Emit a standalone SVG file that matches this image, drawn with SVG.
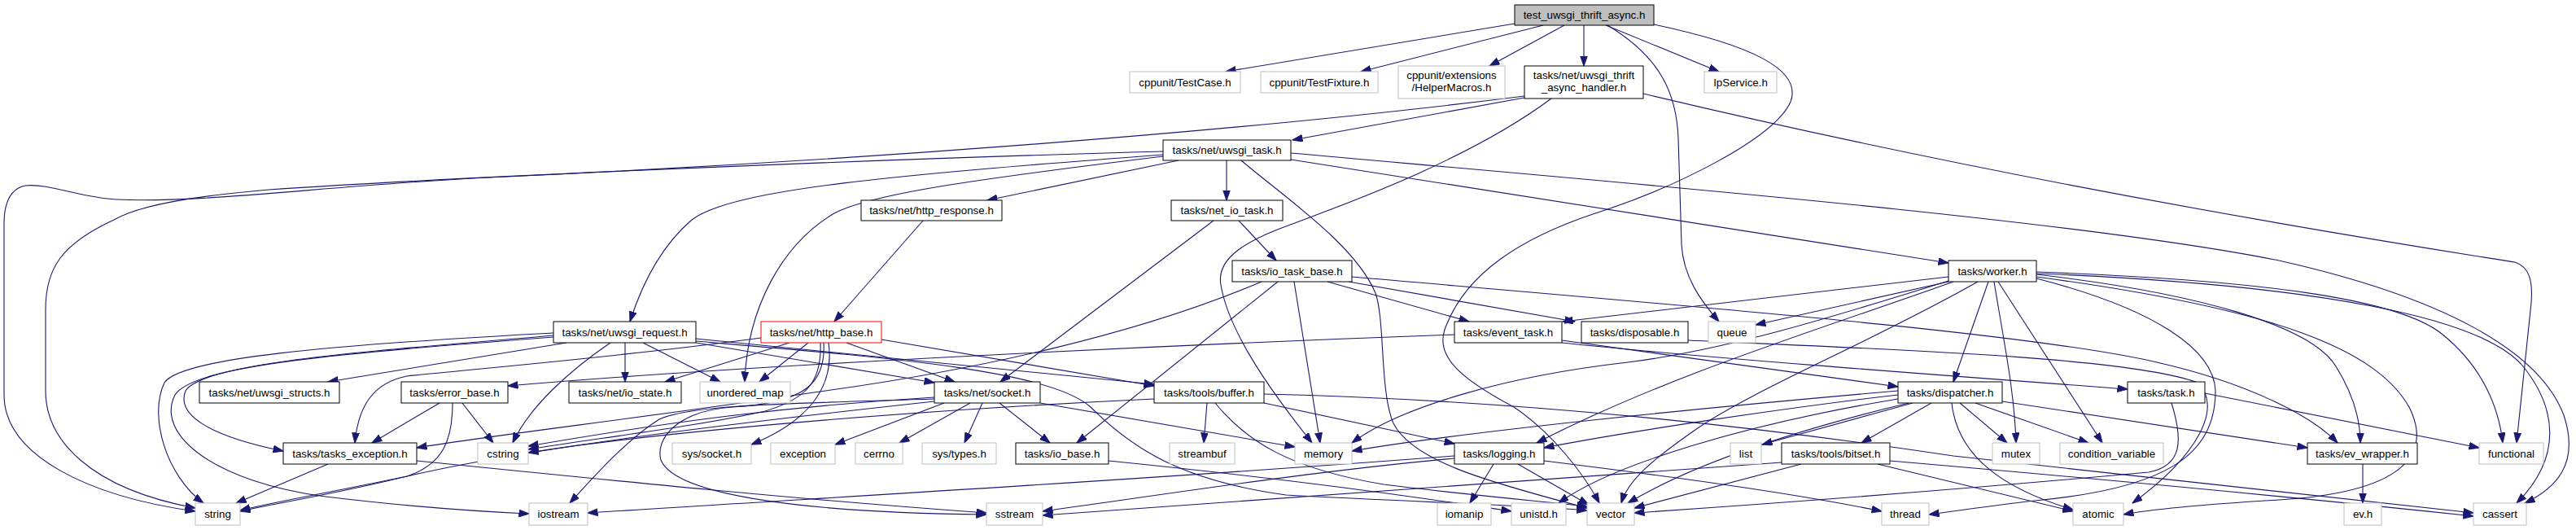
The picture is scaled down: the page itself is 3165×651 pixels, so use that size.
<svg xmlns="http://www.w3.org/2000/svg" width="3165" height="651" viewBox="0 0 3165 651">
<defs>
<style>
.n rect{fill:#fff;stroke:#000;stroke-width:1}
.g rect{fill:#fff;stroke:#bfbfbf;stroke-width:1}
.r rect{fill:#fff;stroke:#f00;stroke-width:1}
.t rect{fill:#bfbfbf;stroke:#000;stroke-width:1}
text{font-family:"Liberation Sans",Arial,sans-serif;font-size:13.33px;text-anchor:middle;fill:#000}
#edges path{fill:none;stroke:#191970;stroke-width:1.1;marker-end:url(#a)}
</style>
<marker id="a" markerWidth="13" markerHeight="10" refX="12.5" refY="4.5" orient="auto" markerUnits="userSpaceOnUse"><path d="M0,0 L13,4.5 L0,9 z" fill="#191970" stroke="#191970" stroke-width="0.8"/></marker>
</defs>
<rect width="3165" height="651" fill="#fff"/>
<g id="edges">
<path d="M1861,29 L1506,88"/>
<path d="M1896,31 L1672,88"/>
<path d="M1922,31 L1830,81"/>
<path d="M1946,31 L1946,81"/>
<path d="M1973,31 L2112,88"/>
<path d="M1975,31 C2040,70 2060,115 2062,170 L2066,300 C2068,340 2090,370 2112,395"/>
<path d="M2032,30 C2150,55 2215,85 2200,125 C2180,170 2060,230 1960,262 C1870,292 1800,335 1775,405 C1763,440 1800,468 1860,500 C1905,530 1945,580 1965,618"/>
<path d="M1873,120 L1588,172"/>
<path d="M1873,118 C1500,165 1000,200 600,218 C400,228 250,250 143,245 C100,243 60,225 31,228 C12,232 5,250 5,275 L5,485 C5,560 110,610 240,628"/>
<path d="M1906,121 C1800,200 1640,255 1580,278 C1520,300 1495,322 1500,350 C1510,410 1565,485 1612,544"/>
<path d="M2019,115 C2500,230 2950,300 3090,322 C3108,328 3112,345 3110,372 L3092,544"/>
<path d="M1448,197 L1213,246"/>
<path d="M1507,197 L1507,246"/>
<path d="M1586,196 L2394,323"/>
<path d="M1429,190 C1100,215 900,232 850,270 C815,300 790,345 774,395"/>
<path d="M1429,192 C1200,220 1070,238 1025,262 C960,300 918,380 915,469"/>
<path d="M1429,186 C1100,195 600,215 330,233 C250,240 175,250 140,270 C75,300 56,330 56,380 L56,480 C56,540 110,600 240,624"/>
<path d="M1586,188 C2000,225 2550,270 2800,320 C3000,365 3120,430 3150,510 C3170,570 3140,600 3102,618"/>
<path d="M1525,197 C1575,240 1665,300 1690,360 C1702,395 1695,480 1712,520 C1735,565 1820,590 1950,624"/>
<path d="M1134,271 L1025,395"/>
<path d="M1522,271 L1568,320"/>
<path d="M1491,271 L1229,469"/>
<path d="M1631,346 L1805,395"/>
<path d="M1657,346 L1935,395"/>
<path d="M1590,346 L1622,544"/>
<path d="M1570,346 L1323,544"/>
<path d="M1550,346 C1400,410 1200,455 1000,482 C800,512 600,535 512,550"/>
<path d="M1661,340 C2100,378 2500,410 2650,445 C2760,470 2840,510 2872,544"/>
<path d="M696,421 L403,469"/>
<path d="M768,421 L768,469"/>
<path d="M790,421 L885,469"/>
<path d="M750,421 C700,455 650,500 630,544"/>
<path d="M680,412 C450,432 250,445 228,480 C215,512 265,537 348,554"/>
<path d="M680,409 C400,424 222,440 202,470 C182,512 205,585 250,618"/>
<path d="M680,414 C420,434 240,448 215,485 C190,535 265,592 400,610 C500,622 580,628 650,631"/>
<path d="M855,421 L1148,470"/>
<path d="M855,416 L1418,472"/>
<path d="M855,419 C1100,440 1290,455 1340,500 C1390,550 1450,590 1580,608 C1750,617 1880,621 1950,627"/>
<path d="M970,421 L817,469"/>
<path d="M993,421 L933,469"/>
<path d="M1040,421 L1173,469"/>
<path d="M1083,417 L1418,474"/>
<path d="M935,415 C750,440 560,455 500,462 C458,470 440,500 436,544"/>
<path d="M1008,421 C1010,470 990,490 940,505 C850,525 720,540 649,552"/>
<path d="M1012,421 C1015,470 990,495 900,500 C830,505 805,540 812,565 C830,610 1000,630 1212,632"/>
<path d="M1018,421 C1025,470 1000,515 923,546"/>
<path d="M1148,490 C960,496 850,497 810,515 C770,540 730,585 700,618"/>
<path d="M1148,488 C950,500 800,522 649,548"/>
<path d="M1160,495 L1026,546"/>
<path d="M1192,495 L1105,544"/>
<path d="M1207,495 L1185,544"/>
<path d="M1228,495 L1290,544"/>
<path d="M1278,495 L1591,549"/>
<path d="M1148,493 C900,520 650,550 500,585 C400,606 330,618 295,627"/>
<path d="M1483,495 L1479,544"/>
<path d="M1418,490 C1100,505 800,532 649,556"/>
<path d="M1553,495 L1787,545"/>
<path d="M1553,484 C1900,492 2200,530 2400,560 C2700,592 2900,615 3039,630"/>
<path d="M1493,495 C1530,540 1580,575 1700,595 C1820,610 1900,616 1950,622"/>
<path d="M540,495 L457,544"/>
<path d="M568,495 L606,544"/>
<path d="M556,495 C556,540 545,570 500,585 C420,605 340,618 295,628"/>
<path d="M403,570 L290,618"/>
<path d="M512,566 C800,595 1000,615 1212,630"/>
<path d="M1787,411 C1400,425 900,450 624,474"/>
<path d="M1919,418 L2332,475"/>
<path d="M1919,421 C2100,440 2400,462 2614,478"/>
<path d="M2394,340 L1920,395"/>
<path d="M2394,346 L2157,399"/>
<path d="M2394,345 C2250,390 2120,430 2000,445 C1850,462 1720,500 1661,544"/>
<path d="M2400,346 C2250,400 2050,460 1888,544"/>
<path d="M2443,346 L2400,469"/>
<path d="M2450,346 C2462,420 2475,480 2477,544"/>
<path d="M2455,346 L2583,544"/>
<path d="M2502,340 C2800,380 2920,430 2960,500 C2990,560 2950,605 2800,614 C2700,620 2640,626 2609,632"/>
<path d="M2502,337 C2700,360 2840,400 2870,450 C2895,490 2900,520 2900,544"/>
<path d="M2502,334 C2800,345 2950,370 3000,410 C3050,450 3070,500 3075,544"/>
<path d="M2502,336 C2850,350 3050,390 3100,450 C3140,500 3150,560 3092,618"/>
<path d="M2502,342 C2650,380 2720,430 2722,480 C2722,560 2660,600 2500,615 C2440,622 2400,628 2370,632"/>
<path d="M2430,346 C2300,420 2150,480 2080,530 C2030,565 2000,590 1992,618"/>
<path d="M2332,485 C2200,500 2000,530 1897,550"/>
<path d="M2332,480 C2100,500 1800,530 1661,554"/>
<path d="M2350,495 L2165,546"/>
<path d="M2373,495 L2287,544"/>
<path d="M2408,495 L2466,544"/>
<path d="M2427,495 L2566,544"/>
<path d="M2398,495 C2405,560 2460,600 2547,626"/>
<path d="M2460,493 L2835,550"/>
<path d="M2345,495 C2200,530 2080,570 2000,618"/>
<path d="M2332,490 C2150,520 1980,570 1915,618"/>
<path d="M2213,570 L2008,624"/>
<path d="M2307,570 L2547,628"/>
<path d="M2322,566 C2600,590 2850,614 3039,634"/>
<path d="M2189,568 C1900,590 1600,612 1281,633"/>
<path d="M1835,570 L1806,618"/>
<path d="M1865,570 L1952,620"/>
<path d="M1897,566 C2050,585 2200,605 2312,628"/>
<path d="M1787,563 C1600,580 1400,612 1281,628"/>
<path d="M1787,560 C1400,590 1000,612 722,630"/>
<path d="M2709,483 L3046,550"/>
<path d="M2668,495 C2682,540 2682,572 2640,580 C2400,602 2200,617 2008,630"/>
<path d="M2903,570 L2903,618"/>
<path d="M2074,418 C2350,430 2620,440 2700,470 C2732,500 2700,560 2620,618"/>
<path d="M1362,566 C1600,590 1750,612 1857,628"/>
</g>
<g id="test" class="t"><rect x="1861" y="6" width="171" height="25"/><text x="1946.5" y="23">test_uwsgi_thrift_async.h</text></g>
<g id="TestCase" class="g"><rect x="1388" y="88" width="136" height="26"/><text x="1456" y="105.5">cppunit/TestCase.h</text></g>
<g id="TestFixture" class="g"><rect x="1549" y="88" width="144" height="26"/><text x="1621" y="105.5">cppunit/TestFixture.h</text></g>
<g id="HelperMacros" class="g"><rect x="1718" y="81" width="131" height="40"/><text x="1783.5" y="97">cppunit/extensions</text><text x="1783.5" y="112">/HelperMacros.h</text></g>
<g id="handler" class="n"><rect x="1873" y="81" width="146" height="40"/><text x="1946" y="97">tasks/net/uwsgi_thrift</text><text x="1946" y="112">_async_handler.h</text></g>
<g id="IpService" class="g"><rect x="2094" y="88" width="89" height="26"/><text x="2138.5" y="105.5">IpService.h</text></g>
<g id="uwsgi_task" class="n"><rect x="1429" y="172" width="157" height="25"/><text x="1507.5" y="189">tasks/net/uwsgi_task.h</text></g>
<g id="http_response" class="n"><rect x="1058" y="246" width="173" height="25"/><text x="1144.5" y="263">tasks/net/http_response.h</text></g>
<g id="net_io_task" class="n"><rect x="1439" y="246" width="137" height="25"/><text x="1507.5" y="263">tasks/net_io_task.h</text></g>
<g id="io_task_base" class="n"><rect x="1514" y="320" width="147" height="26"/><text x="1587.5" y="337.5">tasks/io_task_base.h</text></g>
<g id="worker" class="n"><rect x="2394" y="320" width="108" height="26"/><text x="2448" y="337.5">tasks/worker.h</text></g>
<g id="uwsgi_request" class="n"><rect x="680" y="395" width="175" height="26"/><text x="767.5" y="412.5">tasks/net/uwsgi_request.h</text></g>
<g id="http_base" class="r"><rect x="935" y="395" width="148" height="26"/><text x="1009" y="412.5">tasks/net/http_base.h</text></g>
<g id="event_task" class="n"><rect x="1787" y="395" width="132" height="26"/><text x="1853" y="412.5">tasks/event_task.h</text></g>
<g id="disposable" class="n"><rect x="1943" y="395" width="131" height="26"/><text x="2008.5" y="412.5">tasks/disposable.h</text></g>
<g id="queue" class="g"><rect x="2099" y="395" width="58" height="26"/><text x="2128" y="412.5">queue</text></g>
<g id="uwsgi_structs" class="n"><rect x="245" y="469" width="172" height="26"/><text x="331" y="486.5">tasks/net/uwsgi_structs.h</text></g>
<g id="error_base" class="n"><rect x="493" y="469" width="131" height="26"/><text x="558.5" y="486.5">tasks/error_base.h</text></g>
<g id="io_state" class="n"><rect x="699" y="469" width="138" height="26"/><text x="768" y="486.5">tasks/net/io_state.h</text></g>
<g id="unordered_map" class="g"><rect x="860" y="469" width="111" height="26"/><text x="915.5" y="486.5">unordered_map</text></g>
<g id="socket" class="n"><rect x="1148" y="469" width="130" height="26"/><text x="1213" y="486.5">tasks/net/socket.h</text></g>
<g id="buffer" class="n"><rect x="1418" y="469" width="135" height="26"/><text x="1485.5" y="486.5">tasks/tools/buffer.h</text></g>
<g id="dispatcher" class="n"><rect x="2332" y="469" width="128" height="26"/><text x="2396" y="486.5">tasks/dispatcher.h</text></g>
<g id="task" class="n"><rect x="2614" y="469" width="95" height="26"/><text x="2661.5" y="486.5">tasks/task.h</text></g>
<g id="tasks_exception" class="n"><rect x="348" y="544" width="164" height="26"/><text x="430" y="561.5">tasks/tasks_exception.h</text></g>
<g id="cstring" class="g"><rect x="587" y="544" width="62" height="26"/><text x="618" y="561.5">cstring</text></g>
<g id="sys_socket" class="g"><rect x="826" y="544" width="97" height="26"/><text x="874.5" y="561.5">sys/socket.h</text></g>
<g id="exception" class="g"><rect x="947" y="544" width="79" height="26"/><text x="986.5" y="561.5">exception</text></g>
<g id="cerrno" class="g"><rect x="1051" y="544" width="58" height="26"/><text x="1080" y="561.5">cerrno</text></g>
<g id="sys_types" class="g"><rect x="1133" y="544" width="91" height="26"/><text x="1178.5" y="561.5">sys/types.h</text></g>
<g id="io_base" class="n"><rect x="1248" y="544" width="114" height="26"/><text x="1305" y="561.5">tasks/io_base.h</text></g>
<g id="streambuf" class="g"><rect x="1437" y="544" width="80" height="26"/><text x="1477" y="561.5">streambuf</text></g>
<g id="memory" class="g"><rect x="1591" y="544" width="70" height="26"/><text x="1626" y="561.5">memory</text></g>
<g id="logging" class="n"><rect x="1787" y="544" width="110" height="26"/><text x="1842" y="561.5">tasks/logging.h</text></g>
<g id="list" class="g"><rect x="2126" y="544" width="38" height="26"/><text x="2145" y="561.5">list</text></g>
<g id="bitset" class="n"><rect x="2189" y="544" width="133" height="26"/><text x="2255.5" y="561.5">tasks/tools/bitset.h</text></g>
<g id="mutex" class="g"><rect x="2448" y="544" width="58" height="26"/><text x="2477" y="561.5">mutex</text></g>
<g id="condition_variable" class="g"><rect x="2531" y="544" width="127" height="26"/><text x="2594.5" y="561.5">condition_variable</text></g>
<g id="ev_wrapper" class="n"><rect x="2835" y="544" width="135" height="26"/><text x="2902.5" y="561.5">tasks/ev_wrapper.h</text></g>
<g id="functional" class="g"><rect x="3046" y="544" width="79" height="26"/><text x="3085.5" y="561.5">functional</text></g>
<g id="string" class="g"><rect x="240" y="618" width="55" height="27"/><text x="267.5" y="636">string</text></g>
<g id="iostream" class="g"><rect x="650" y="618" width="72" height="27"/><text x="686" y="636">iostream</text></g>
<g id="sstream" class="g"><rect x="1212" y="618" width="69" height="27"/><text x="1246.5" y="636">sstream</text></g>
<g id="iomanip" class="g"><rect x="1766" y="618" width="66" height="27"/><text x="1799" y="636">iomanip</text></g>
<g id="unistd" class="g"><rect x="1857" y="618" width="67" height="27"/><text x="1890.5" y="636">unistd.h</text></g>
<g id="vector" class="g"><rect x="1950" y="618" width="58" height="27"/><text x="1979" y="636">vector</text></g>
<g id="thread" class="g"><rect x="2312" y="618" width="58" height="27"/><text x="2341" y="636">thread</text></g>
<g id="atomic" class="g"><rect x="2547" y="618" width="62" height="27"/><text x="2578" y="636">atomic</text></g>
<g id="ev_h" class="g"><rect x="2880" y="618" width="46" height="27"/><text x="2903" y="636">ev.h</text></g>
<g id="cassert" class="g"><rect x="3039" y="618" width="65" height="27"/><text x="3071.5" y="636">cassert</text></g>
</svg>
